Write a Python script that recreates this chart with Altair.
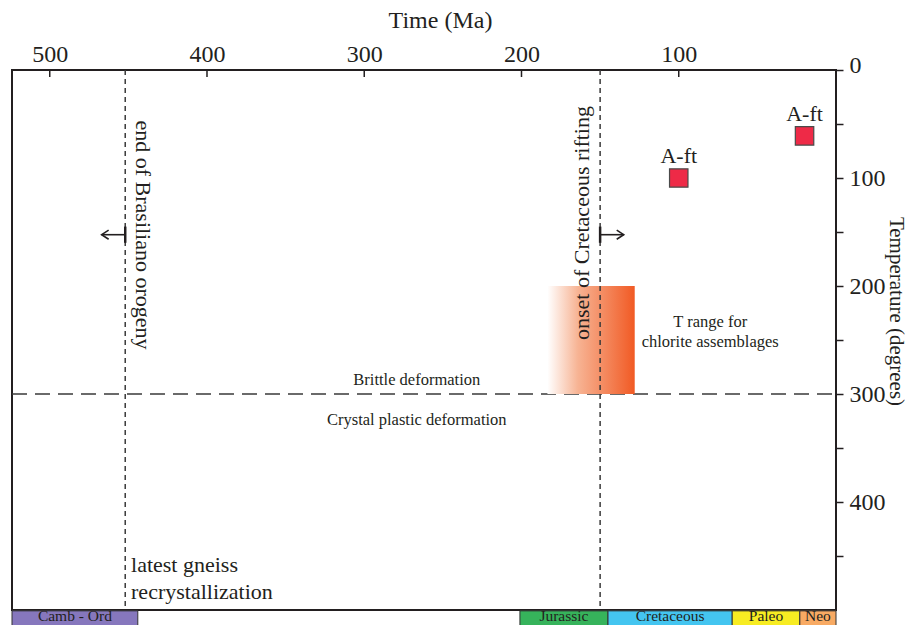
import altair as alt
import pandas as pd

# ---------------- data ----------------
X_OLD, X_YOUNG = 524, 0          # time axis extent (Ma)
Y_TOP, Y_BOTTOM = 0, 500         # temperature axis extent (degrees)

x_tick_values = [500, 400, 300, 200, 100]
y_tick_values = [0, 50, 100, 150, 200, 250, 300, 350, 400, 450]

event_labels = ["end of Brasiliano orogeny", "onset of Cretaceous rifting"]
event_ages = [452, 150]
event_arrow_dir = [1, -1]        # +1 = arrow towards older ages, -1 towards younger
arrow_len = 15                   # Ma
arrow_T = 152.5
arrow_bar_T = [145, 160]

aft_labels = ["A-ft", "A-ft"]
aft_ages = [100, 20]
aft_temps = [100, 61]

chlorite_ages = [183.5, 128]
chlorite_temps = [200, 300]

brittle_plastic_T = 300

periods = ["Camb - Ord", "Jurassic", "Cretaceous", "Paleo", "Neo"]
period_start = [541, 201, 145, 66, 23]
period_end = [444, 145, 66, 23, 0]
period_colors = ["#8677BD", "#36B35B", "#44C5F0", "#F7EC22", "#F8AA63"]
strip_T = [500.8, 522]
strip_label_T = 505.8

text_labels = ["end of Brasiliano orogeny", "onset of Cretaceous rifting",
               "Brittle deformation", "Crystal plastic deformation",
               "T range for", "chlorite assemblages",
               "latest gneiss", "recrystallization"]
text_ages = [440.7, 161.5, 266.6, 266.6, 80, 80, 448.3, 448.3]
text_temps = [152.8, 141.7, 287, 324, 233, 251.5, 458, 483]

# ---------------- styling ----------------
FONT = "Liberation Serif"
INK = "#231F20"

xs = alt.Scale(domain=[X_OLD, X_YOUNG], nice=False, zero=False)
ys = alt.Scale(domain=[Y_TOP, Y_BOTTOM], reverse=True, nice=False, zero=False)

top_axis = alt.Axis(orient="top", values=x_tick_values, ticks=False, domain=False,
                    grid=False, labelPadding=4, labelFontSize=24, labelFlush=False,
                    title="Time (Ma)", titleFontSize=24, titlePadding=10, titleX=428)
right_axis = alt.Axis(orient="right", values=y_tick_values, domain=False, grid=False,
                      ticks=True, tickSize=7, tickWidth=1.5, tickColor=INK,
                      labelExpr="datum.value % 100 == 0 ? datum.label : ''",
                      labelOffset={"condition": {"test": "datum.value == 0", "value": -5}, "value": 0},
                      labelPadding=6, labelFontSize=24, labelFlush=False,
                      labelAlign="left", labelBaseline="middle",
                      title="Temperature (degrees)", titleFontSize=21, titleAngle=90,
                      titlePadding=0, titleY=241)

# ---------------- tables ----------------
ev = pd.DataFrame({"label": event_labels, "age": event_ages, "dir": event_arrow_dir})
ev["tip"] = ev["age"] + ev["dir"] * arrow_len
ev["T"] = arrow_T
ev["T1"], ev["T2"] = arrow_bar_T

aft = pd.DataFrame({"label": aft_labels, "age": aft_ages, "T": aft_temps})
chl = pd.DataFrame({"a1": [chlorite_ages[0]], "a2": [chlorite_ages[1]],
                    "T1": [chlorite_temps[0]], "T2": [chlorite_temps[1]]})
hl = pd.DataFrame({"a1": [X_OLD], "a2": [X_YOUNG], "T": [brittle_plastic_T]})
xt = pd.DataFrame({"age": x_tick_values})

per = pd.DataFrame({"period": periods, "start": period_start, "end": period_end})
per["start"] = per["start"].clip(upper=X_OLD)
per["mid"] = (per["start"] + per["end"]) / 2
per["T1"], per["T2"] = strip_T
per["Tl"] = strip_label_T

txt = pd.DataFrame({"label": text_labels, "age": text_ages, "T": text_temps})


def X(field):
    return alt.X(field, scale=xs)


def Y(field):
    return alt.Y(field, scale=ys)


# ---------------- layers ----------------
# first layer carries both axes (other layers leave the axis unspecified)
hline = alt.Chart(hl).mark_rule(color="#3A3A3A", strokeWidth=1.5, strokeDash=[15, 8]).encode(
    x=alt.X("a1:Q", scale=xs, axis=top_axis), x2="a2:Q",
    y=alt.Y("T:Q", scale=ys, axis=right_axis))

# inward ticks of the top time axis
inner_ticks = alt.Chart(xt).mark_rule(color=INK, strokeWidth=1.5).encode(
    x=X("age:Q"), y=alt.value(0), y2=alt.value(7))

vlines = alt.Chart(ev).mark_rule(color="#3A3A3A", strokeWidth=1.5, strokeDash=[5, 4]).encode(
    x=X("age:Q"))

grad = alt.Gradient(gradient="linear", x1=0, x2=1, y1=0, y2=0,
                    stops=[alt.GradientStop(color="#FFFFFF", offset=0),
                           alt.GradientStop(color="#F7B393", offset=0.35),
                           alt.GradientStop(color="#F15A24", offset=1)])
chlorite = alt.Chart(chl).mark_rect(color=grad, strokeWidth=0).encode(
    x=X("a1:Q"), x2="a2:Q", y=Y("T1:Q"), y2="T2:Q")

bars = alt.Chart(ev).mark_rule(color=INK, strokeWidth=2.5).encode(
    x=X("age:Q"), y=Y("T1:Q"), y2="T2:Q")
shafts = alt.Chart(ev).mark_rule(color=INK, strokeWidth=1.6).encode(
    x=X("age:Q"), x2="tip:Q", y=Y("T:Q"))
heads_l = alt.Chart(ev[ev["dir"] > 0]).mark_point(
    shape="M1,-0.65L0,0L1,0.65", size=196, filled=False, stroke=INK, strokeWidth=1.6, opacity=1).encode(
    x=X("tip:Q"), y=Y("T:Q"))
heads_r = alt.Chart(ev[ev["dir"] < 0]).mark_point(
    shape="M-1,-0.65L0,0L-1,0.65", size=196, filled=False, stroke=INK, strokeWidth=1.6, opacity=1).encode(
    x=X("tip:Q"), y=Y("T:Q"))

squares = alt.Chart(aft).mark_square(size=340, fill="#EE2A47", stroke="#4A4A4A",
                                     strokeWidth=1.2, filled=True, opacity=1).encode(
    x=X("age:Q"), y=Y("T:Q"))
sq_text = alt.Chart(aft).mark_text(font=FONT, fontSize=22, color=INK, dy=-15,
                                   baseline="alphabetic", align="center").encode(
    x=X("age:Q"), y=Y("T:Q"), text="label:N")


def text_layer(rows, size, angle=0, align="center"):
    return alt.Chart(txt.iloc[rows]).mark_text(font=FONT, fontSize=size, color=INK, angle=angle,
                                               align=align, baseline="middle").encode(
        x=X("age:Q"), y=Y("T:Q"), text="label:N")


t_bras = text_layer([0], 22, angle=90)
t_rift = text_layer([1], 22, angle=270)
t_small = text_layer([2, 3, 4, 5], 16.5)
t_gneiss = text_layer([6, 7], 22, align="left")

strip = alt.Chart(per).mark_rect(stroke="#333333", strokeWidth=1).encode(
    x=X("start:Q"), x2="end:Q", y=Y("T1:Q"), y2="T2:Q",
    color=alt.Color("period:N", scale=alt.Scale(domain=periods, range=period_colors), legend=None))
strip_text = alt.Chart(per).mark_text(font=FONT, fontSize=15.5, color=INK, baseline="middle").encode(
    x=X("mid:Q"), y=Y("Tl:Q"), text="period:N")

chart = alt.layer(
    hline, chlorite, inner_ticks, vlines, bars, shafts, heads_l, heads_r, squares, sq_text,
    t_bras, t_rift, t_small, t_gneiss, strip, strip_text
).properties(
    width=824, height=540,
    autosize=alt.AutoSizeParams(type="none"),
    padding={"left": 4, "top": 62, "right": 74, "bottom": 20},
    background="white",
).configure_view(
    stroke=INK, strokeWidth=2
).configure_axis(
    labelFont=FONT, titleFont=FONT, labelColor=INK, titleColor=INK, titleFontWeight="normal"
)

chart.save("out.html", embed_options={"renderer": "svg", "actions": False})
